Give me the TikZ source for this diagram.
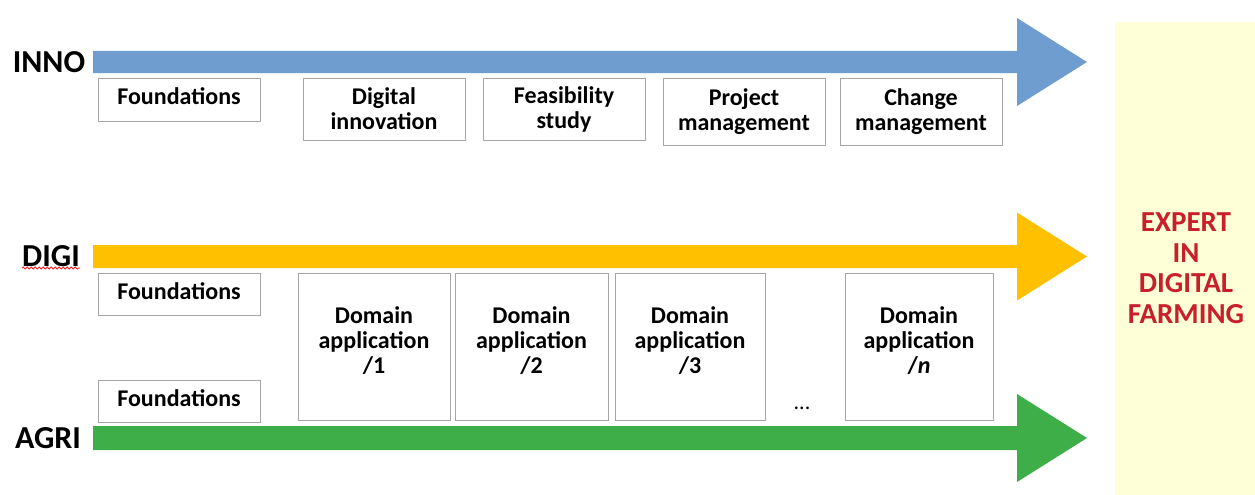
\documentclass[tikz,border=0pt]{standalone}
\usepackage{fontspec}
\setmainfont{Carlito}
\usetikzlibrary{shadows,decorations.pathmorphing}
\definecolor{innoblue}{HTML}{6F9DD0}
\definecolor{digiyel}{HTML}{FFC000}
\definecolor{agrigreen}{HTML}{3EAE49}
\definecolor{expbg}{HTML}{FFFFD7}
\definecolor{expred}{HTML}{C8202A}
\definecolor{boxline}{HTML}{A6A6A6}
\tikzset{
  topic/.style={draw=boxline, line width=0.8pt, fill=white, align=center,
    font=\fontsize{24}{25}\selectfont\bfseries, inner sep=0pt,
    drop shadow={shadow xshift=1.2pt, shadow yshift=-1.2pt, fill=black!18, opacity=1}},
  lane/.style={font=\fontsize{32}{34}\selectfont\bfseries, inner sep=0pt},
  domtext/.style={align=center, font=\fontsize{24}{25}\selectfont\bfseries, inner sep=0pt},
}
\newcommand{\lanearrow}[3]{% color, shaft top y, centre y
  \fill[#1] (93,#2) -- (1017,#2) -- (1017,#3-44) -- (1087,#3) -- (1017,#3+44)
    -- (1017,2*#3-#2) -- (93,2*#3-#2) -- cycle;}
\begin{document}
\begin{tikzpicture}[x=1pt,y=-1pt]
\useasboundingbox (0,0) rectangle (1255,495);
\fill[white] (0,0) rectangle (1255,495);
% expert box
\fill[expbg] (1115,22) rectangle (1255,495);
\node[align=center, text=expred, font=\fontsize{29}{30.5}\selectfont\bfseries, inner sep=0pt]
  (expert) at (1186,268) {EXPERT\\IN\\DIGITAL\\FARMING};
% arrows
\lanearrow{innoblue}{51}{62}
\lanearrow{digiyel}{245}{256.5}
\lanearrow{agrigreen}{426}{438}
% lane labels
\node[lane] (inno) at (49,62) {INNO};
\node[lane] (digi) at (51,256) {DIGI};
\node[lane] (agri) at (48,438) {AGRI};
\draw[red, line width=0.7pt, decorate, decoration={snake, amplitude=1.1pt, segment length=4pt}]
  (22,268) -- (80,268);
% INNO boxes
\node[topic, minimum width=162, minimum height=43] (f1) at (179,99.5) {};
\node[domtext] (f1t) at ([yshift=3]f1.center) {Foundations};
\node[topic, minimum width=162, minimum height=62] (di) at (384,109) {Digital\\innovation};
\node[topic, minimum width=162, minimum height=62] (fs) at (564,109) {Feasibility\\study};
\node[topic, minimum width=162, minimum height=67] (pm) at (744,111.5) {Project\\management};
\node[topic, minimum width=162, minimum height=67] (cm) at (921,111.5) {Change\\management};
% DIGI / AGRI boxes
\node[topic, minimum width=162, minimum height=42] (f2) at (179,294) {};
\node[domtext] (f2t) at ([yshift=3]f2.center) {Foundations};
\node[topic, minimum width=162, minimum height=42] (f3) at (179,401) {};
\node[domtext] (f3t) at ([yshift=3]f3.center) {Foundations};
\node[topic, minimum width=152, minimum height=147] (d1) at (374,346.5) {};
\node[topic, minimum width=153, minimum height=147] (d2) at (531.5,346.5) {};
\node[topic, minimum width=150, minimum height=147] (d3) at (690,346.5) {};
\node[topic, minimum width=148, minimum height=147] (dn) at (919,346.5) {};
\node[domtext] (t1) at ([yshift=6]d1.center) {Domain\\application\\/1};
\node[domtext] (t2) at ([yshift=6]d2.center) {Domain\\application\\/2};
\node[domtext] (t3) at ([yshift=6]d3.center) {Domain\\application\\/3};
\node[domtext] (tn) at ([yshift=6]dn.center) {Domain\\application\\/\textit{n}};
\node[font=\fontsize{22}{24}\selectfont, inner sep=0pt] (dots) at (802,408) {...};
\end{tikzpicture}
\end{document}
